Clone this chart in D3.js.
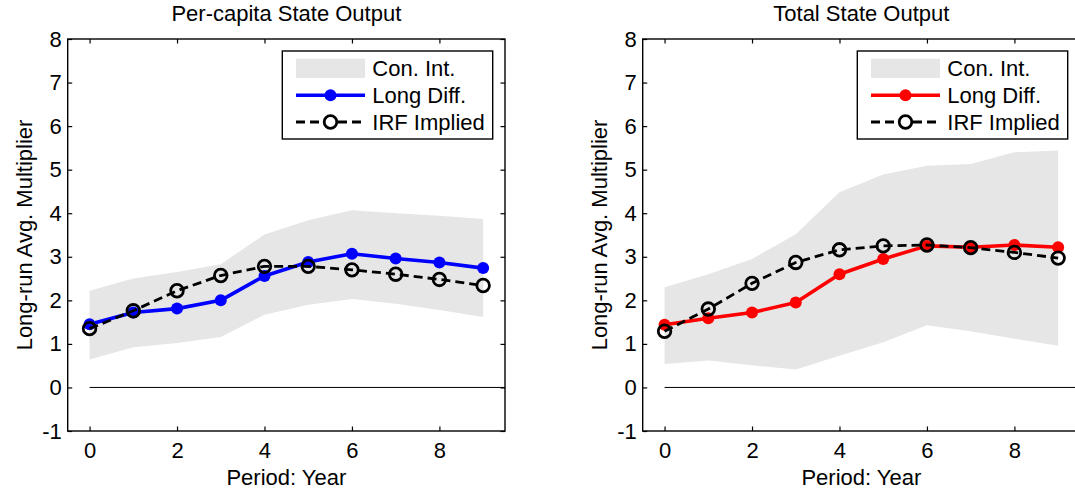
<!DOCTYPE html>
<html>
<head>
<meta charset="utf-8">
<script src="https://cdn.jsdelivr.net/npm/d3@7"></script>
<style>
  html, body { margin: 0; padding: 0; background: #fff; }
  svg { display: block; }
  text { font-family: "Liberation Sans", Arial, Helvetica, sans-serif; fill: #000; }
</style>
</head>
<body>
<svg id="chart" width="1075" height="495"></svg>
<script>
// ---- data ----
const periods = [0, 1, 2, 3, 4, 5, 6, 7, 8, 9];
const xTicks = [0, 2, 4, 6, 8];
const yTicks = [-1, 0, 1, 2, 3, 4, 5, 6, 7, 8];
const titles = ["Per-capita State Output", "Total State Output"];
const legendLabels = ["Con. Int.", "Long Diff.", "IRF Implied"];

const pcLongDiff = [1.45, 1.72, 1.81, 2.00, 2.56, 2.88, 3.07, 2.96, 2.87, 2.74];
const pcIRF      = [1.35, 1.76, 2.22, 2.57, 2.78, 2.78, 2.70, 2.60, 2.48, 2.34];
const pcCIUpper  = [2.22, 2.50, 2.65, 2.83, 3.51, 3.84, 4.07, 4.00, 3.94, 3.87];
const pcCILower  = [0.64, 0.92, 1.02, 1.16, 1.67, 1.90, 2.03, 1.92, 1.78, 1.62];

const totLongDiff = [1.44, 1.59, 1.72, 1.95, 2.60, 2.95, 3.25, 3.22, 3.27, 3.22];
const totIRF      = [1.29, 1.80, 2.39, 2.87, 3.16, 3.25, 3.27, 3.21, 3.10, 2.97];
const totCIUpper  = [2.30, 2.60, 2.95, 3.52, 4.48, 4.89, 5.09, 5.13, 5.40, 5.44];
const totCILower  = [0.54, 0.62, 0.51, 0.41, 0.73, 1.04, 1.43, 1.29, 1.12, 0.96];

// ---- layout ----
const svg = d3.select("#chart");
const FONT = 22;
const plotW = 437.3, plotTop = 39, plotBottom = 431;
const panels = [
  { left: 67.7, title: titles[0], color: "#0000ff", ld: pcLongDiff, irf: pcIRF, up: pcCIUpper, lo: pcCILower },
  { left: 642.7, title: titles[1], color: "#ff0000", ld: totLongDiff, irf: totIRF, up: totCIUpper, lo: totCILower }
];
const fmt = d => String(d);

panels.forEach(p => {
  const x = d3.scaleLinear().domain([-0.5, 9.5]).range([p.left, p.left + plotW]);
  const y = d3.scaleLinear().domain([-1, 8]).range([plotBottom, plotTop]);
  const g = svg.append("g");

  // confidence band
  const area = d3.area()
    .x((d, i) => x(periods[i]))
    .y0((d, i) => y(p.lo[i]))
    .y1((d, i) => y(p.up[i]));
  g.append("path").datum(p.up).attr("d", area).attr("fill", "#e6e6e6");

  // zero line
  g.append("line")
    .attr("x1", x(0)).attr("x2", x(9.5))
    .attr("y1", y(0)).attr("y2", y(0))
    .attr("stroke", "#000").attr("stroke-width", 1);

  // long diff line
  const line = d3.line().x((d, i) => x(periods[i])).y(d => y(d));
  g.append("path").datum(p.ld).attr("d", line)
    .attr("fill", "none").attr("stroke", p.color).attr("stroke-width", 3.6)
    .attr("stroke-linejoin", "round");
  g.selectAll(".dot").data(p.ld).enter().append("circle")
    .attr("cx", (d, i) => x(periods[i])).attr("cy", d => y(d))
    .attr("r", 6).attr("fill", p.color);

  // IRF implied
  g.append("path").datum(p.irf).attr("d", line)
    .attr("fill", "none").attr("stroke", "#000").attr("stroke-width", 2.8)
    .attr("stroke-dasharray", "9,5");
  g.selectAll(".circ").data(p.irf).enter().append("circle")
    .attr("cx", (d, i) => x(periods[i])).attr("cy", d => y(d))
    .attr("r", 6.3).attr("fill", "none").attr("stroke", "#000").attr("stroke-width", 2.8);

  // axes
  const ax = g.append("g").attr("transform", `translate(0,${plotBottom})`)
    .call(d3.axisBottom(x).tickValues(xTicks).tickFormat(fmt).tickSizeInner(-4.5).tickSizeOuter(0).tickPadding(11.7));
  const axT = g.append("g").attr("transform", `translate(0,${plotTop})`)
    .call(d3.axisTop(x).tickValues(xTicks).tickSizeInner(-4.5).tickSizeOuter(0).tickFormat(""));
  const ay = g.append("g").attr("transform", `translate(${p.left},0)`)
    .call(d3.axisLeft(y).tickValues(yTicks).tickFormat(fmt).tickSizeInner(-4.5).tickSizeOuter(0).tickPadding(6));
  const ayR = g.append("g").attr("transform", `translate(${p.left + plotW},0)`)
    .call(d3.axisRight(y).tickValues(yTicks).tickSizeInner(-4.5).tickSizeOuter(0).tickFormat(""));
  [ax, axT, ay, ayR].forEach(a => {
    a.select(".domain").remove();
    a.selectAll("line").attr("stroke", "#000").attr("stroke-width", 1.2);
    a.selectAll("text").attr("font-size", FONT).attr("font-family", null).attr("fill", "#000");
  });
  // box
  g.append("rect").attr("x", p.left).attr("y", plotTop).attr("width", plotW).attr("height", plotBottom - plotTop)
    .attr("fill", "none").attr("stroke", "#000").attr("stroke-width", 1.4);

  // title & labels
  g.append("text").attr("x", p.left + plotW / 2).attr("y", 21)
    .attr("text-anchor", "middle").attr("font-size", FONT).text(p.title);
  g.append("text").attr("x", p.left + plotW / 2).attr("y", 485)
    .attr("text-anchor", "middle").attr("font-size", FONT).text("Period: Year");
  g.append("text").attr("transform", `translate(${p.left - 36},235) rotate(-90)`)
    .attr("text-anchor", "middle").attr("font-size", FONT).text("Long-run Avg. Multiplier");

  // legend
  const lx = p.left + 214.6, ly = 51, lw = 210.4, lh = 88;
  const lg = g.append("g");
  lg.append("rect").attr("x", lx).attr("y", ly).attr("width", lw).attr("height", lh)
    .attr("fill", "#fff").attr("stroke", "#000").attr("stroke-width", 1.4);
  const rows = [68.3, 95.2, 122];
  const s0 = p.left + 228.3, s1 = p.left + 297.3, sm = (s0 + s1) / 2;
  lg.append("rect").attr("x", s0).attr("y", rows[0] - 9.7).attr("width", s1 - s0).attr("height", 19.4)
    .attr("fill", "#e6e6e6");
  lg.append("line").attr("x1", s0).attr("x2", s1).attr("y1", rows[1]).attr("y2", rows[1])
    .attr("stroke", p.color).attr("stroke-width", 3.6);
  lg.append("circle").attr("cx", sm).attr("cy", rows[1]).attr("r", 6).attr("fill", p.color);
  lg.append("line").attr("x1", s0).attr("x2", s1).attr("y1", rows[2]).attr("y2", rows[2])
    .attr("stroke", "#000").attr("stroke-width", 2.8).attr("stroke-dasharray", "9,5");
  lg.append("circle").attr("cx", sm).attr("cy", rows[2]).attr("r", 6.3)
    .attr("fill", "#fff").attr("stroke", "#000").attr("stroke-width", 2.8);
  legendLabels.forEach((t, i) => {
    lg.append("text").attr("x", p.left + 304.6).attr("y", rows[i] + 7.7)
      .attr("font-size", FONT).text(t);
  });
});
</script>
</body>
</html>
